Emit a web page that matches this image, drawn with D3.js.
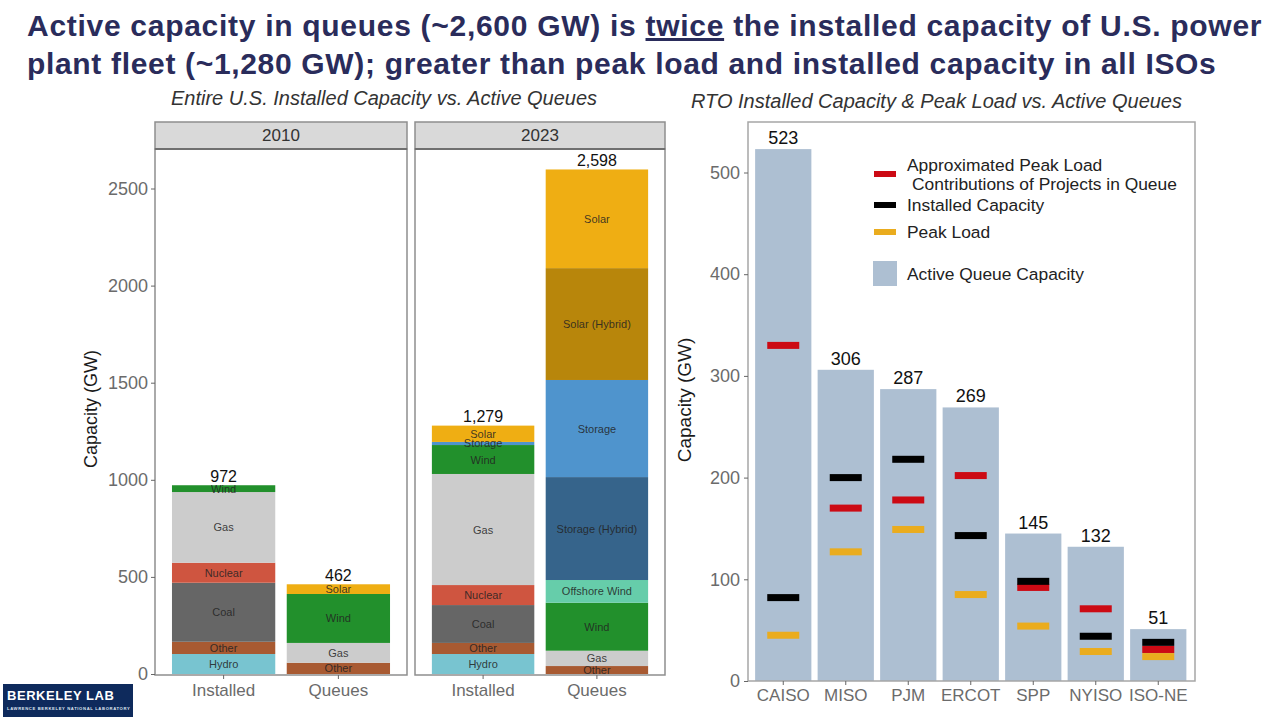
<!DOCTYPE html>
<html>
<head>
<meta charset="utf-8">
<script src="https://cdn.jsdelivr.net/npm/d3@7"></script>
<style>
  html, body { margin: 0; padding: 0; background: #fff; }
  svg { display: block; font-family: "Liberation Sans", Arial, sans-serif; }
</style>
</head>
<body>
<svg id="chart" width="1280" height="720"></svg>
<script>
// Left chart data: stacks read bottom to top
const stackBars = ["Installed", "Queues"];
const installed2010Labels = ["Hydro", "Other", "Coal", "Nuclear", "Gas", "Wind"];
const installed2010Values = [103, 63, 304, 103, 364, 35];
const queues2010Labels = ["Other", "Gas", "Wind", "Solar"];
const queues2010Values = [58, 102, 252, 50];
const installed2023Labels = ["Hydro", "Other", "Coal", "Nuclear", "Gas", "Wind", "Storage", "Solar"];
const installed2023Values = [103, 57, 195, 103, 572, 149, 16, 84];
const queues2023Labels = ["Other", "Gas", "Wind", "Offshore Wind", "Storage (Hybrid)", "Storage", "Solar (Hybrid)", "Solar"];
const queues2023Values = [41, 79, 247, 117, 530, 500, 576, 508];
const leftTicks = [0, 500, 1000, 1500, 2000, 2500];

// Right chart data
const rtoNames = ["CAISO", "MISO", "PJM", "ERCOT", "SPP", "NYISO", "ISO-NE"];
const queueCapacity = [523, 306, 287, 269, 145, 132, 51];
const peakContribution = [330, 170, 178, 202, 92, 71, 31];
const installedCapacity = [82, 200, 218, 143, 98, 44, 38];
const peakLoad = [45, 127, 149, 85, 54, 29, 24];
const rightTicks = [0, 100, 200, 300, 400, 500];

const fuelColor = {
    "Hydro": "#78c4d0",
    "Other": "#a85a32",
    "Coal": "#666666",
    "Nuclear": "#cf5540",
    "Gas": "#cccccc",
    "Wind": "#22902c",
    "Storage": "#4f94cd",
    "Solar": "#efae13",
    "Offshore Wind": "#66cdaa",
    "Storage (Hybrid)": "#36648b",
    "Solar (Hybrid)": "#b8860b"
};
const tickRed = "#cc0a14", tickBlack = "#000000", tickOrange = "#eaac1e", queueBlue = "#adbfd2";
const axisGrey = "#6b6b6b", borderGrey = "#8e8e8e";

const svg = d3.select("#chart");

// Headline
const title = svg.append("g").attr("fill", "#2a2c5b").attr("font-weight", "bold").attr("font-size", 30);
const line1 = title.append("text").attr("x", 27).attr("y", 36).attr("letter-spacing", 0.71);
line1.append("tspan").text("Active capacity in queues (~2,600 GW) is ");
line1.append("tspan").attr("text-decoration", "underline").text("twice");
line1.append("tspan").text(" the installed capacity of U.S. power");
title.append("text").attr("x", 27).attr("y", 74).attr("letter-spacing", 0.67)
    .text("plant fleet (~1,280 GW); greater than peak load and installed capacity in all ISOs");

// Subtitles
svg.append("text").attr("x", 171).attr("y", 105).attr("font-style", "italic").attr("font-size", 20).attr("fill", "#333")
    .text("Entire U.S. Installed Capacity vs. Active Queues");
svg.append("text").attr("x", 691).attr("y", 108).attr("font-style", "italic").attr("font-size", 20).attr("fill", "#333")
    .text("RTO Installed Capacity & Peak Load vs. Active Queues");

// ---- Left chart ----
const panelTop = 149, panelBottom = 675;
const yLeft = d3.scaleLinear().domain([0, 2500]).range([674, 188.5]);

const facets = [
    { name: "2010", x0: 155, x1: 407, stacks: [[installed2010Labels, installed2010Values, "972"], [queues2010Labels, queues2010Values, "462"]] },
    { name: "2023", x0: 415, x1: 665, stacks: [[installed2023Labels, installed2023Values, "1,279"], [queues2023Labels, queues2023Values, "2,598"]] }
];

facets.forEach((facet, fi) => {
    const g = svg.append("g");
    // Facet strip
    g.append("rect").attr("x", facet.x0).attr("y", 122).attr("width", facet.x1 - facet.x0).attr("height", panelTop - 122)
        .attr("fill", "#d9d9d9").attr("stroke", borderGrey).attr("stroke-width", 1.5);
    g.append("text").attr("x", (facet.x0 + facet.x1) / 2).attr("y", 141).attr("text-anchor", "middle")
        .attr("font-size", 17).attr("fill", "#333").text(facet.name);

    const x = d3.scaleBand().domain(stackBars).range([facet.x0 + 5.5, facet.x1 - 5.5]).paddingInner(0.1).paddingOuter(0.1);

    facet.stacks.forEach((stack, si) => {
        const [labels, values, total] = stack;
        const cx = x(stackBars[si]) + x.bandwidth() / 2;
        const cum = d3.cumsum(values);
        labels.forEach((label, i) => {
            const bottom = i === 0 ? 0 : cum[i - 1];
            g.append("rect")
                .attr("x", x(stackBars[si])).attr("width", x.bandwidth())
                .attr("y", yLeft(cum[i])).attr("height", yLeft(bottom) - yLeft(cum[i]))
                .attr("fill", fuelColor[label]);
        });
        labels.forEach((label, i) => {
            const bottom = i === 0 ? 0 : cum[i - 1];
            g.append("text").attr("x", cx).attr("y", yLeft((bottom + cum[i]) / 2) + 4)
                .attr("text-anchor", "middle").attr("font-size", 11).attr("fill", "#222")
                .attr("fill-opacity", 0.85).text(label);
        });
        g.append("text").attr("x", cx).attr("y", yLeft(cum[cum.length - 1]) - 3.5)
            .attr("text-anchor", "middle").attr("font-size", 16).attr("fill", "#111").text(total);
    });

    // Panel border, with the darker rule under the strip
    g.append("rect").attr("x", facet.x0).attr("y", panelTop).attr("width", facet.x1 - facet.x0).attr("height", panelBottom - panelTop)
        .attr("fill", "none").attr("stroke", borderGrey).attr("stroke-width", 1.5);
    g.append("line").attr("x1", facet.x0).attr("x2", facet.x1).attr("y1", panelTop).attr("y2", panelTop)
        .attr("stroke", "#707070").attr("stroke-width", 2);

    const xAxis = g.append("g").attr("transform", `translate(0,${panelBottom})`)
        .call(d3.axisBottom(x).tickSize(4).tickPadding(5));
    xAxis.select(".domain").remove();
    xAxis.selectAll("line").attr("stroke", "#666");
    xAxis.selectAll("text").attr("font-size", 17).attr("fill", axisGrey).attr("font-family", "Liberation Sans");

    if (fi === 0) {
        const yAxis = g.append("g").attr("transform", `translate(${facet.x0},0)`)
            .call(d3.axisLeft(yLeft).tickValues(leftTicks).tickFormat(d3.format("d")).tickSize(4).tickPadding(3));
        yAxis.select(".domain").remove();
        yAxis.selectAll("line").attr("stroke", "#666");
        yAxis.selectAll("text").attr("font-size", 18).attr("fill", axisGrey).attr("font-family", "Liberation Sans");
    }
});

svg.append("text").attr("transform", "translate(97,409) rotate(-90)").attr("text-anchor", "middle")
    .attr("font-size", 18).attr("fill", "#1a1a1a").text("Capacity (GW)");

// ---- Right chart ----
const rightLeft = 748, rightRight = 1195, rightTop = 122, rightBottom = 681;
const xRight = d3.scaleBand().domain(rtoNames).range([752, 1189.5]).paddingInner(0.1).paddingOuter(0.05);
const yRight = d3.scaleLinear().domain([0, 500]).range([681, 172.5]);

const gr = svg.append("g");
gr.selectAll(".queue-bar").data(rtoNames).enter().append("rect")
    .attr("class", "queue-bar")
    .attr("x", d => xRight(d)).attr("width", xRight.bandwidth())
    .attr("y", (d, i) => yRight(queueCapacity[i]))
    .attr("height", (d, i) => yRight(0) - yRight(queueCapacity[i]))
    .attr("fill", queueBlue);

gr.selectAll(".queue-label").data(rtoNames).enter().append("text")
    .attr("class", "queue-label")
    .attr("x", d => xRight(d) + xRight.bandwidth() / 2)
    .attr("y", (d, i) => yRight(queueCapacity[i]) - 5)
    .attr("text-anchor", "middle").attr("font-size", 18).attr("fill", "#111")
    .text((d, i) => queueCapacity[i]);

// Draw markers in this order so black sits over red where they touch
[[peakLoad, tickOrange], [peakContribution, tickRed], [installedCapacity, tickBlack]].forEach(([vals, color]) => {
    gr.selectAll(null).data(rtoNames).enter().append("rect")
        .attr("x", d => xRight(d) + xRight.bandwidth() / 2 - 16)
        .attr("width", 32)
        .attr("y", (d, i) => yRight(vals[i]) - 3.5)
        .attr("height", 7)
        .attr("fill", color);
});

gr.append("rect").attr("x", rightLeft).attr("y", rightTop).attr("width", rightRight - rightLeft).attr("height", rightBottom - rightTop)
    .attr("fill", "none").attr("stroke", "#a6a6a6").attr("stroke-width", 1.5);

const xAxisR = gr.append("g").attr("transform", `translate(0,${rightBottom})`)
    .call(d3.axisBottom(xRight).tickSize(4).tickPadding(4));
xAxisR.select(".domain").remove();
xAxisR.selectAll("line").attr("stroke", "#666");
xAxisR.selectAll("text").attr("font-size", 17).attr("fill", axisGrey).attr("font-family", "Liberation Sans");

const yAxisR = gr.append("g").attr("transform", `translate(${rightLeft},0)`)
    .call(d3.axisLeft(yRight).tickValues(rightTicks).tickSize(4).tickPadding(4));
yAxisR.select(".domain").remove();
yAxisR.selectAll("line").attr("stroke", "#666");
yAxisR.selectAll("text").attr("font-size", 18).attr("fill", axisGrey).attr("font-family", "Liberation Sans");

svg.append("text").attr("transform", "translate(691,400) rotate(-90)").attr("text-anchor", "middle")
    .attr("font-size", 19).attr("fill", "#1a1a1a").text("Capacity (GW)");

// Legend
const legend = svg.append("g").attr("font-size", 17.4).attr("fill", "#222");
[[174, tickRed], [205, tickBlack], [232, tickOrange]].forEach(([y, color]) => {
    legend.append("rect").attr("x", 874).attr("y", y - 3).attr("width", 22).attr("height", 6).attr("fill", color);
});
legend.append("rect").attr("x", 873).attr("y", 261).attr("width", 24).attr("height", 25).attr("fill", queueBlue);
legend.append("text").attr("x", 907).attr("y", 171).text("Approximated Peak Load");
legend.append("text").attr("x", 912).attr("y", 190).text("Contributions of Projects in Queue");
legend.append("text").attr("x", 907).attr("y", 211).text("Installed Capacity");
legend.append("text").attr("x", 907).attr("y", 238).text("Peak Load");
legend.append("text").attr("x", 907).attr("y", 280).text("Active Queue Capacity");

// Logo block
svg.append("rect").attr("x", 3).attr("y", 684).attr("width", 130).attr("height", 33).attr("fill", "#0e2a5c");
svg.append("text").attr("x", 7).attr("y", 700).attr("font-size", 13).attr("font-weight", "bold").attr("letter-spacing", 0.55).attr("fill", "#fff").text("BERKELEY LAB");
svg.append("text").attr("x", 7).attr("y", 709.5).attr("font-size", 4.2).attr("letter-spacing", 0.62).attr("font-weight", "bold").attr("fill", "#dfe6f0").text("LAWRENCE BERKELEY NATIONAL LABORATORY");
</script>
</body>
</html>
